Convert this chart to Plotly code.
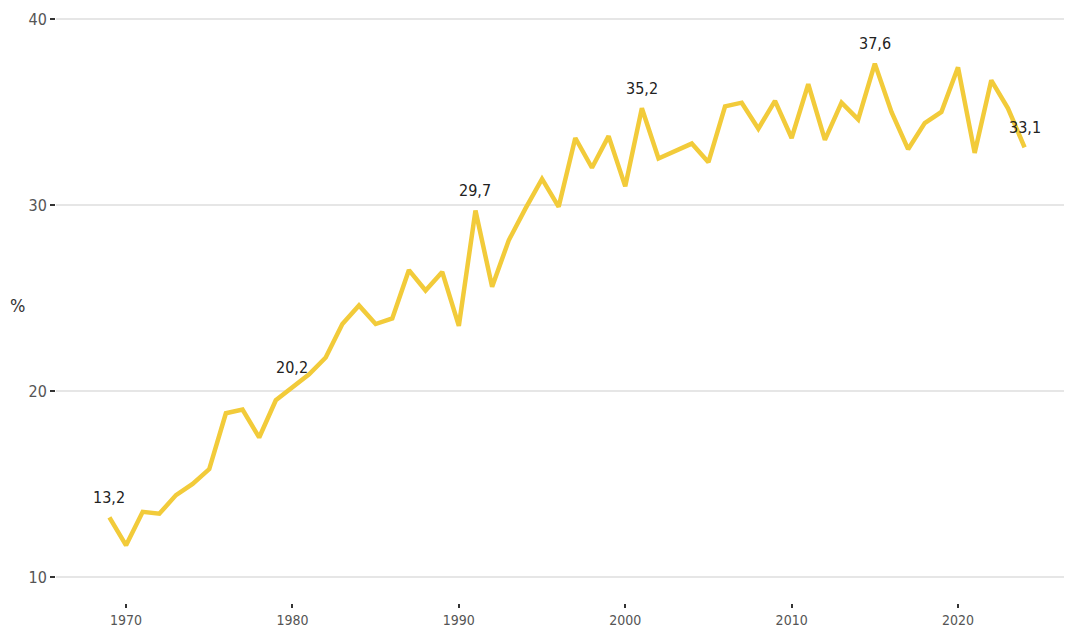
import plotly.graph_objects as go

years = list(range(1969, 2025))
values = [13.2, 11.7, 13.5, 13.4, 14.4, 15.0, 15.8, 18.8, 19.0, 17.5,
          19.5, 20.2, 20.9, 21.8, 23.6, 24.6, 23.6, 23.9, 26.5, 25.4,
          26.4, 23.5, 29.7, 25.6, 28.1, 29.8, 31.4, 29.9, 33.6, 32.0,
          33.7, 31.0, 35.2, 32.5, 32.9, 33.3, 32.3, 35.3, 35.5, 34.1,
          35.6, 33.6, 36.5, 33.5, 35.5, 34.6, 37.6, 35.0, 33.0, 34.4,
          35.0, 37.4, 32.8, 36.7, 35.2, 33.1]

label_years = [1969, 1980, 1991, 2001, 2015, 2024]
y_ticks = [10, 20, 30, 40]
x_ticks = [1970, 1980, 1990, 2000, 2010, 2020]

FONT = "DejaVu Sans Condensed, Liberation Sans Narrow, Roboto, sans-serif"

fig = go.Figure()
fig.add_trace(go.Scatter(
    x=years, y=values, mode="lines",
    line=dict(color="#F2CB3A", width=4.5),
    hoverinfo="x+y", showlegend=False,
))

for yr in label_years:
    v = values[years.index(yr)]
    fig.add_annotation(
        x=yr, y=v, text=f"{v:.1f}".replace(".", ","),
        showarrow=False, yshift=20,
        font=dict(family=FONT, size=16, color="#222222"),
    )

fig.add_annotation(
    xref="paper", yref="paper", x=-0.038, y=0.5,
    xanchor="center", yanchor="middle",
    text="%", showarrow=False,
    font=dict(family=FONT, size=18, color="#333333"),
)

fig.update_layout(
    width=1064, height=619,
    margin=dict(l=48, r=1, t=0, b=24),
    plot_bgcolor="white", paper_bgcolor="white",
    font=dict(family=FONT, size=14, color="#555555"),
    xaxis=dict(
        range=[1965.79, 2026.79], tickvals=x_ticks, automargin=False,
        showgrid=False, zeroline=False, showline=False,
        ticks="outside", ticklen=4, tickwidth=2, tickcolor="#333333",
        tickfont=dict(family=FONT, size=14, color="#555555"),
    ),
    yaxis=dict(
        range=[8.6, 40.59], tickvals=y_ticks, automargin=False,
        showgrid=True, gridcolor="#E6E6E6", gridwidth=1.5,
        zeroline=False, showline=False,
        ticks="outside", ticklen=5, tickwidth=2, tickcolor="#333333",
        tickfont=dict(family=FONT, size=16, color="#555555"),
    ),
)

fig.write_html("out.html")
